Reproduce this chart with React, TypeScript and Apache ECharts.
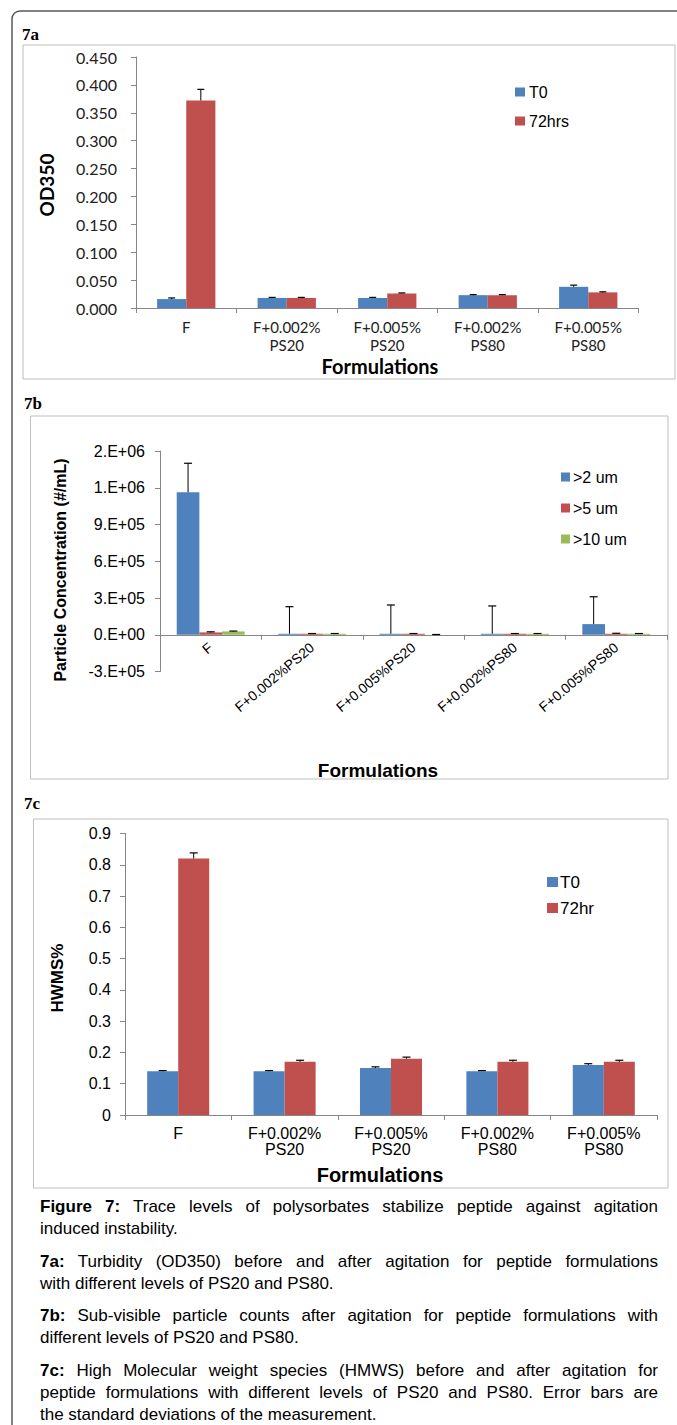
import React, { useEffect, useRef } from "react";
import * as echarts from "echarts";

// ---------- 7a data ----------
const catsA = ["F", "F+0.002%\nPS20", "F+0.005%\nPS20", "F+0.002%\nPS80", "F+0.005%\nPS80"];
const t0A = [0.016, 0.018, 0.018, 0.023, 0.038];
const t0AErr = [0.002, 0.001, 0.001, 0.001, 0.003];
const h72A = [0.372, 0.018, 0.026, 0.023, 0.028];
const h72AErr = [0.02, 0.001, 0.001, 0.001, 0.001];
const yTicksA = ["0.000", "0.050", "0.100", "0.150", "0.200", "0.250", "0.300", "0.350", "0.400", "0.450"];

// ---------- 7b data ----------
const catsB = ["F", "F+0.002%PS20", "F+0.005%PS20", "F+0.002%PS80", "F+0.005%PS80"];
const um2 = [1163000, 8000, 8000, 8000, 87000];
const um2Err = [237000, 221000, 235000, 227000, 223000];
const um5 = [19000, 8000, 8000, 8000, 8000];
const um5Err = [5000, 2000, 2000, 2000, 4000];
const um10 = [27000, 8000, 0, 8000, 8000];
const um10Err = [3000, 2000, 2000, 2000, 2000];
const yTicksB = ["-3.E+05", "0.E+00", "3.E+05", "6.E+05", "9.E+05", "1.E+06", "2.E+06"];

// ---------- 7c data ----------
const catsC = ["F", "F+0.002%\nPS20", "F+0.005%\nPS20", "F+0.002%\nPS80", "F+0.005%\nPS80"];
const t0C = [0.14, 0.14, 0.15, 0.14, 0.16];
const t0CErr = [0.002, 0.002, 0.004, 0.002, 0.004];
const h72C = [0.82, 0.17, 0.18, 0.17, 0.17];
const h72CErr = [0.018, 0.005, 0.005, 0.005, 0.005];
const yTicksC = ["0", "0.1", "0.2", "0.3", "0.4", "0.5", "0.6", "0.7", "0.8", "0.9"];

const captionParas = [
  [["Figure 7:", " Trace levels of polysorbates stabilize peptide against agitation"], ["", "induced instability."]],
  [["7a:", " Turbidity (OD350) before and after agitation for peptide formulations"], ["", "with different levels of PS20 and PS80."]],
  [["7b:", " Sub-visible particle counts after agitation for peptide formulations with"], ["", "different levels of PS20 and PS80."]],
  [
    ["7c:", " High Molecular weight species (HMWS) before and after agitation for"],
    ["", "peptide formulations with different levels of PS20 and PS80. Error bars are"],
    ["", "the standard deviations of the measurement."],
  ],
];

const BLUE = "#4F81BD";
const RED = "#C0504D";
const GREEN = "#9BBB59";
const AXIS = "#868686";
const BOX = "#BFBFBF";
const CAL = "Lato, 'Open Sans', sans-serif";
const ARIAL = "'Liberation Sans', Arial, sans-serif";
const SERIF = "'Liberation Serif', 'Times New Roman', serif";

function errSeries(name: string, grid: number, idx: number, n: number, gap: number, vals: number[], errs: number[], hw: number) {
  return {
    type: "custom",
    name: name + " err",
    xAxisIndex: grid,
    yAxisIndex: grid,
    z: 5,
    silent: true,
    clip: false,
    encode: { x: 0, y: 1 },
    data: vals.map((v, i) => [i, v, errs[i]]),
    renderItem: (_p: any, api: any) => {
      const ci = api.value(0);
      const v = api.value(1);
      const e = api.value(2);
      const base = api.coord([ci, v]);
      const top = api.coord([ci, v + e]);
      const band = api.size([1, 0])[0];
      const used = band * (1 - gap);
      const bw = used / n;
      const x = base[0] - used / 2 + (idx + 0.5) * bw;
      return {
        type: "group",
        children: [
          { type: "line", shape: { x1: x, y1: base[1], x2: x, y2: top[1] }, style: { stroke: "#000", lineWidth: 1 } },
          { type: "line", shape: { x1: x - hw, y1: top[1], x2: x + hw, y2: top[1] }, style: { stroke: "#000", lineWidth: 1.2 } },
        ],
      };
    },
  };
}

function barSeries(name: string, grid: number, vals: number[], color: string, gap: string) {
  return {
    type: "bar",
    name,
    xAxisIndex: grid,
    yAxisIndex: grid,
    data: vals,
    barGap: "0%",
    barCategoryGap: gap,
    itemStyle: { color },
  };
}

function tickLabel(labels: string[], min: number, step: number) {
  return (v: number) => {
    const i = Math.round((v - min) / step);
    return labels[i] ?? "";
  };
}

export default function App() {
  const ref = useRef<HTMLDivElement>(null);
  useEffect(() => {
    if (!ref.current) return;
    const chart = echarts.init(ref.current, undefined, { renderer: "svg" });
    const axisLineStyle = { show: true, lineStyle: { color: AXIS, width: 1 } };
    const option: any = {
      animation: false,
      backgroundColor: "#fff",
      grid: [
        { left: 136, top: 57, width: 502.5, height: 251, containLabel: false },
        { left: 160, top: 451, width: 507, height: 220.5, containLabel: false },
        { left: 125, top: 833.5, width: 532, height: 281.5, containLabel: false },
      ],
      xAxis: [
        {
          type: "category", gridIndex: 0, data: catsA,
          axisLine: axisLineStyle, axisTick: { show: true, length: 5, lineStyle: { color: AXIS } },
          axisLabel: { fontFamily: CAL, fontSize: 15, color: "#222", lineHeight: 18, margin: 10, interval: 0 },
        },
        {
          type: "category", gridIndex: 1, data: catsB,
          axisLine: { ...axisLineStyle, onZero: true }, axisTick: { show: true, length: 5, lineStyle: { color: AXIS } },
          axisLabel: { fontFamily: ARIAL, fontSize: 14, color: "#000", rotate: 40, margin: -26, interval: 0 },
        },
        {
          type: "category", gridIndex: 2, data: catsC,
          axisLine: axisLineStyle, axisTick: { show: true, length: 5, lineStyle: { color: AXIS } },
          axisLabel: { fontFamily: ARIAL, fontSize: 16, color: "#000", lineHeight: 16, margin: 10, interval: 0 },
        },
      ],
      yAxis: [
        {
          type: "value", gridIndex: 0, min: 0, max: 0.45, interval: 0.05,
          axisLine: axisLineStyle, axisTick: { show: true, length: 5, lineStyle: { color: AXIS } },
          splitLine: { show: false },
          axisLabel: { fontFamily: CAL, fontSize: 16, color: "#222", margin: 19, formatter: tickLabel(yTicksA, 0, 0.05) },
        },
        {
          type: "value", gridIndex: 1, min: -300000, max: 1500000, interval: 300000,
          axisLine: axisLineStyle, axisTick: { show: true, length: 5, lineStyle: { color: AXIS } },
          splitLine: { show: false },
          axisLabel: { fontFamily: ARIAL, fontSize: 16, color: "#000", margin: 15, formatter: tickLabel(yTicksB, -300000, 300000) },
        },
        {
          type: "value", gridIndex: 2, min: 0, max: 0.9, interval: 0.1,
          axisLine: axisLineStyle, axisTick: { show: true, length: 5, lineStyle: { color: AXIS } },
          splitLine: { show: false },
          axisLabel: { fontFamily: ARIAL, fontSize: 16, color: "#000", margin: 14, formatter: tickLabel(yTicksC, 0, 0.1) },
        },
      ],
      legend: [
        {
          data: ["T0", "72hrs"], orient: "vertical", left: 515, top: 82, padding: 0, itemWidth: 10, itemHeight: 9, itemGap: 9,
          icon: "rect", textStyle: { fontFamily: ARIAL, fontSize: 16, color: "#000", lineHeight: 20, padding: [0, 0, 0, -1] },
          selectedMode: false,
        },
        {
          data: [">2 um", ">5 um", ">10 um"], orient: "vertical", left: 561, top: 467, padding: 0, itemWidth: 9, itemHeight: 9, itemGap: 11,
          icon: "rect", textStyle: { fontFamily: ARIAL, fontSize: 16, color: "#000", lineHeight: 20, padding: [0, 0, 0, -2] },
          selectedMode: false,
        },
        {
          data: ["T0 ", "72hr"], orient: "vertical", left: 547, top: 872, padding: 0, itemWidth: 11, itemHeight: 10, itemGap: 6,
          icon: "rect", textStyle: { fontFamily: ARIAL, fontSize: 17, color: "#000", lineHeight: 20, padding: [0, 0, 0, -3] },
          selectedMode: false,
        },
      ],
      series: [
        barSeries("T0", 0, t0A, BLUE, "42%"),
        barSeries("72hrs", 0, h72A, RED, "42%"),
        errSeries("T0", 0, 0, 2, 0.42, t0A, t0AErr, 3.5),
        errSeries("72hrs", 0, 1, 2, 0.42, h72A, h72AErr, 3.5),

        barSeries(">2 um", 1, um2, BLUE, "33%"),
        barSeries(">5 um", 1, um5, RED, "33%"),
        barSeries(">10 um", 1, um10, GREEN, "33%"),
        errSeries(">2 um", 1, 0, 3, 0.33, um2, um2Err, 4),
        errSeries(">5 um", 1, 1, 3, 0.33, um5, um5Err, 4),
        errSeries(">10 um", 1, 2, 3, 0.33, um10, um10Err, 4),

        barSeries("T0 ", 2, t0C, BLUE, "41.7%"),
        barSeries("72hr", 2, h72C, RED, "41.7%"),
        errSeries("T0 ", 2, 0, 2, 0.417, t0C, t0CErr, 4),
        errSeries("72hr", 2, 1, 2, 0.417, h72C, h72CErr, 4),
      ],
      graphic: [
        { type: "rect", shape: { x: 12, y: 11, width: 700, height: 1450, r: 8 }, style: { fill: "none", stroke: "#595959", lineWidth: 1.5 }, z: 0 },
        { type: "rect", shape: { x: 23, y: 45, width: 652, height: 334 }, style: { fill: "none", stroke: BOX, lineWidth: 1 } },
        { type: "rect", shape: { x: 30.5, y: 416, width: 637.5, height: 363 }, style: { fill: "none", stroke: BOX, lineWidth: 1 } },
        { type: "rect", shape: { x: 33.5, y: 819, width: 634.5, height: 369 }, style: { fill: "none", stroke: BOX, lineWidth: 1 } },
        { type: "text", x: 22, y: 34, style: { text: "7a", font: `bold 17px ${SERIF}`, fill: "#000", textVerticalAlign: "middle" } },
        { type: "text", x: 24, y: 403, style: { text: "7b", font: `bold 17px ${SERIF}`, fill: "#000", textVerticalAlign: "middle" } },
        { type: "text", x: 24, y: 803, style: { text: "7c", font: `bold 17px ${SERIF}`, fill: "#000", textVerticalAlign: "middle" } },
        { type: "text", x: 46, y: 185, rotation: Math.PI / 2, style: { text: "OD350", font: `bold 19px ${CAL}`, fill: "#000", textAlign: "center", textVerticalAlign: "middle" } },
        { type: "text", x: 380, y: 366, style: { text: "Formulations", font: `bold 20px ${CAL}`, fill: "#000", textAlign: "center", textVerticalAlign: "middle" } },
        { type: "text", x: 60, y: 570, rotation: Math.PI / 2, style: { text: "Particle Concentration (#/mL)", font: `bold 16px ${ARIAL}`, fill: "#000", textAlign: "center", textVerticalAlign: "middle" } },
        { type: "text", x: 378, y: 770, style: { text: "Formulations", font: `bold 19px ${ARIAL}`, fill: "#000", textAlign: "center", textVerticalAlign: "middle" } },
        { type: "text", x: 57, y: 978, rotation: Math.PI / 2, style: { text: "HWMS%", font: `bold 17px ${ARIAL}`, fill: "#000", textAlign: "center", textVerticalAlign: "middle" } },
        { type: "text", x: 380, y: 1175, style: { text: "Formulations", font: `bold 20px ${ARIAL}`, fill: "#000", textAlign: "center", textVerticalAlign: "middle" } },
      ],
    };
    chart.setOption(option);
    return () => chart.dispose();
  }, []);

  let top = 1196;
  const lines: any[] = [];
  captionParas.forEach((para, pi) => {
    if (pi > 0) top += 10.5;
    para.forEach((ln, li) => {
      const last = li === para.length - 1;
      lines.push(
        <div
          key={`${pi}-${li}`}
          style={{
            position: "absolute",
            left: 40,
            width: 618,
            top,
            height: 22,
            lineHeight: "22px",
            whiteSpace: "nowrap",
            textAlign: "justify",
            textAlignLast: last ? "left" : "justify",
          } as any}
        >
          {ln[0] ? <b>{ln[0]}</b> : null}
          {ln[1]}
        </div>
      );
      top += 22;
    });
  });

  return (
    <div style={{ position: "absolute", left: 0, top: 0, width: 677, height: 1425, overflow: "hidden", background: "#fff" }}>
      <div ref={ref} style={{ position: "absolute", left: 0, top: 0, width: 677, height: 1425 }} />
      <div
        style={{
          position: "absolute",
          left: 0,
          top: 0,
          width: 677,
          fontFamily: "'Liberation Sans Narrow', 'Liberation Sans', Arial, sans-serif",
          fontSize: 17,
          color: "#000",
        }}
      >
        {lines}
      </div>
    </div>
  );
}
